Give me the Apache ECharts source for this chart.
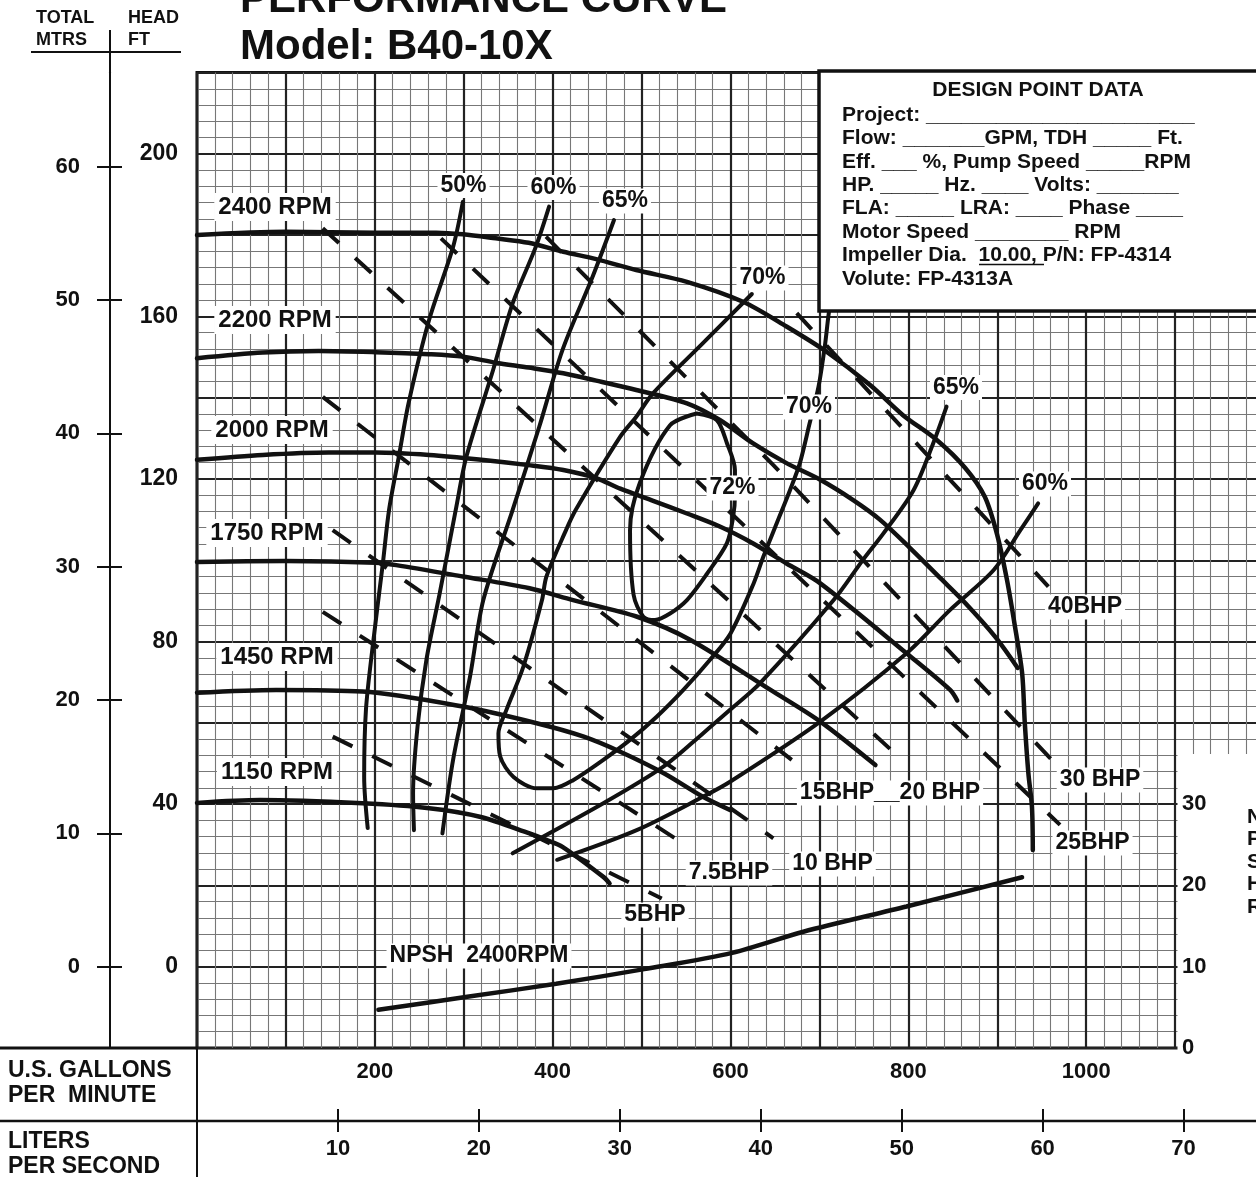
<!DOCTYPE html>
<html>
<head>
<meta charset="utf-8">
<title>Performance Curve Model: B40-10X</title>
<script src="https://cdn.jsdelivr.net/npm/echarts@6/dist/echarts.min.js"></script>
<style>
html,body{margin:0;padding:0;background:#fff;}
#chart{width:1256px;height:1177px;}
</style>
</head>
<body>
<div id="chart"></div>
<script>
// ---------- DATA (x = U.S. GPM, y = total head ft) ----------
const rpm2400 = [[0,180.0],[100,180.8],[201,180.6],[269,180.6],[299,180.2],[336,179.2],[373,178.1],[412,175.9],[449,174.1],[494,171.4],[551,168.5],[614,163.6],[663,157.5],[708,151.3],[757,143.1],[794,135.7],[832,129.6],[864,122.7],[886,115.6],[900,106.2],[911,95.1],[920,83.6],[928,72.2],[931,59.9],[935,47.6],[939,39.4],[940,28.7]];
const rpm2200 = [[0,149.7],[74,151.1],[137,151.5],[201,151.2],[261,150.7],[299,150.1],[336,148.6],[373,147.4],[412,146.0],[449,144.2],[494,141.9],[551,138.6],[588,134.5],[625,128.8],[663,123.9],[701,119.8],[738,114.8],[768,110.0],[802,103.0],[836,95.6],[864,89.5],[898,81.1],[923,73.5]];
const rpm2000 = [[0,124.7],[74,125.9],[148,126.5],[201,126.5],[261,125.9],[317,124.8],[373,123.4],[412,122.2],[449,120.2],[476,117.6],[513,114.6],[551,111.5],[588,108.3],[625,104.2],[663,99.2],[701,94.3],[798,77.1],[847,68.1],[855,65.5]];
const rpm1750 = [[0,99.6],[100,99.8],[201,99.4],[224,98.8],[299,96.0],[374,93.1],[423,90.2],[495,86.1],[555,80.4],[645,68.1],[701,60.3],[763,49.6]];
const rpm1450 = [[0,67.4],[89,68.1],[186,67.7],[299,64.0],[382,59.9],[435,56.6],[476,52.9],[525,47.6],[569,41.8],[600,38.5]];
const rpm1150 = [[0,40.3],[71,41.0],[186,40.2],[261,39.0],[318,36.9],[374,32.8],[393,31.2],[411,29.5],[457,22.1],[464,20.5]];

// efficiency contours
const eff50  = [[299,188.2],[288,177.1],[261,159.1],[238,138.7],[227,125.5],[216,112.4],[209,99.2],[198,79.6],[190,63.2],[188,46.7],[192,34.1]];
const eff60L = [[396,187.0],[381,177.1],[355,163.2],[333,146.8],[303,125.5],[291,112.4],[273,91.9],[258,75.5],[248,59.0],[243,42.7],[244,33.6]];
const eff65L = [[469,183.7],[445,169.8],[411,151.7],[385,132.9],[355,112.4],[322,90.2],[307,71.3],[288,50.9],[276,32.8]];
const eff70  = [[624,165.5],[569,153.4],[513,141.1],[494,135.3],[476,130.4],[426,112.4],[415,107.4],[393,96.0],[388,90.2],[367,73.8],[348,63.2],[339,57.4],[341,51.7],[356,46.7],[382,43.9],[401,43.9],[423,45.9],[457,50.9],[487,55.8],[517,61.5],[547,68.1],[577,75.5],[600,82.0],[626,94.3],[637,100.9],[652,109.1],[667,117.3],[678,123.9],[689,133.7],[699,142.7],[706,152.5],[710,159.9],[712,163.0]];
const eff72  = [[562,136.1],[584.5,134.5],[596,128.8],[605,122.2],[605,116.1],[603,110.7],[596,104.2],[573,96.5],[551,90.2],[532,86.9],[515,85.3],[502,86.1],[491,91.5],[487,107.4],[498,119.0],[532,133.2],[562,136.1]];
const eff65R = [[355,27.9],[457,40.2],[524.5,49.2],[569,57.4],[599.5,63.2],[633,69.7],[716,90.2],[749,100.1],[772,106.6],[806,117.3],[828,128.8],[843,137.8]];
const eff60R = [[405,26.3],[494.5,33.6],[569,41.8],[599.5,45.5],[701,60.3],[798,77.1],[847,87.8],[896,97.6],[926,107.4],[946,114.0]];

// constant brake-horsepower lines
const bhp5   = [[152.6,56.6],[522.7,16.8]];
const bhp7_5 = [[141.4,87.3],[552.6,29.5]];
const bhp10  = [[152.6,107.4],[648.2,31.6]];
const bhp15  = [[141.4,140.2],[668.9,50.9]];
const bhp20  = [[141.4,181.7],[788.8,51.7]];
const bhp25  = [[274.4,179.2],[970.6,34.9]];
const bhp30  = [[392.5,179.6],[648.2,123.4],[966.9,49.6]];
const bhp40  = [[674.5,160.8],[957.5,93.5]];

// NPSH required at 2400 RPM (x = GPM, y = NPSH ft, right scale)
const npsh2400 = [[204,4.7],[304,6.3],[404,7.9],[503,9.7],[602,11.7],[682,14.3],[798,17.4],[928,21.0]];

// tick label values
const gpmLabelValues  = [200,400,600,800,1000];
const lpsLabelValues  = [10,20,30,40,50,60,70];
const headLabelValues = [0,40,80,120,160,200];
const meterTicks      = [0,10,20,30,40,50,60];
const npshLabelValues = [0,10,20,30];

// ---------- CHART ----------
const FONT = '"Liberation Sans", Arial, Helvetica, sans-serif';
const FT2M = 0.3048;
const GPM_PER_LPS = 15.8503;
const INK = '#111';

const chart = echarts.init(document.getElementById('chart'), null, {renderer:'canvas'});

const lblStyle = (size) => ({color:INK, fontSize:size, fontWeight:'bold', fontFamily:FONT});

function curve(name, data, width, smooth) {
  return {name, type:'line', xAxisIndex:0, yAxisIndex:0, data, symbol:'none', showSymbol:false,
    smooth: smooth, silent:true, z:3, lineStyle:{color:INK, width:width, cap:'round', join:'round'}};
}
function dashed(name, data) {
  return {name, type:'line', xAxisIndex:0, yAxisIndex:0, data, symbol:'none', showSymbol:false,
    smooth:false, silent:true, z:3, lineStyle:{color:INK, width:4, type:[22,22], cap:'butt'}};
}

const series = [
  curve('2400 RPM', rpm2400, 4.5, 0.3),
  curve('2200 RPM', rpm2200, 4.5, 0.3),
  curve('2000 RPM', rpm2000, 4.5, 0.3),
  curve('1750 RPM', rpm1750, 4.5, 0.3),
  curve('1450 RPM', rpm1450, 4.5, 0.3),
  curve('1150 RPM', rpm1150, 4.5, 0.3),
  curve('50%', eff50, 4, 0.3),
  curve('60% L', eff60L, 4, 0.3),
  curve('65% L', eff65L, 4, 0.3),
  curve('70%', eff70, 4, 0.3),
  curve('72%', eff72, 4, 0.3),
  curve('65% R', eff65R, 4, 0.3),
  curve('60% R', eff60R, 4, 0.3),
  dashed('5BHP', bhp5),
  dashed('7.5BHP', bhp7_5),
  dashed('10 BHP', bhp10),
  dashed('15BHP', bhp15),
  dashed('20 BHP', bhp20),
  dashed('25BHP', bhp25),
  dashed('30 BHP', bhp30),
  dashed('40BHP', bhp40),
  {name:'NPSH 2400RPM', type:'line', xAxisIndex:3, yAxisIndex:3, data:npsh2400, symbol:'none', showSymbol:false,
   smooth:0.3, silent:true, z:3, lineStyle:{color:INK, width:4.5, cap:'round'}}
];

// ---------- decorations (text and rules) ----------
const graphics = [];
function txt(text, x, y, size, o) {
  o = o || {};
  const st = {text, x, y, font:'bold ' + size + 'px ' + FONT, fill:INK,
    align:o.align || 'left', textAlign:o.align || 'left',
    verticalAlign:'middle', textVerticalAlign:'middle'};
  if (o.bg) { st.backgroundColor = '#fff'; st.padding = o.pad || [1,3]; }
  graphics.push({type:'text', silent:true, z:(o.z != null ? o.z : 100), style:st});
}
function rule(x1,y1,x2,y2,w,z) {
  graphics.push({type:'line', silent:true, z:(z != null ? z : 90), shape:{x1,y1,x2,y2}, style:{stroke:INK, lineWidth:w}});
}

// title
txt('PERFORMANCE CURVE', 240, 0, 42);
txt('Model: B40-10X', 240, 47, 42);
// left header
txt('TOTAL', 36, 18.5, 18); txt('MTRS', 36, 40, 18);
txt('HEAD', 128, 18.5, 18); txt('FT', 128, 40, 18);
rule(31, 52, 181, 52, 2);
rule(110, 30, 110, 74, 2);
// bottom frame
rule(0, 1048, 198, 1048, 3);
rule(197, 1048, 197, 1177, 2);
rule(0, 1121, 1256, 1121, 2.5);
txt('U.S. GALLONS', 8, 1071, 23);
txt('PER  MINUTE', 8, 1096, 23);
txt('LITERS', 8, 1142, 23);
txt('PER SECOND', 8, 1167, 23);

// white area right of NPSH scale
graphics.push({type:'rect', silent:true, z:55, shape:{x:1177.5, y:754, width:90, height:296}, style:{fill:'#fff', stroke:null}});
['N','P','S','H','R'].forEach((c,i) => txt(c, 1247, 817 + i*22.5, 21));

// design point box
graphics.push({type:'rect', silent:true, z:55, shape:{x:819, y:71, width:460, height:240}, style:{fill:'#fff', stroke:INK, lineWidth:3.5}});
txt('DESIGN POINT DATA', 1038, 90, 21, {align:'center', z:56});
const boxLines = [
  'Project: _______________________',
  'Flow: _______GPM, TDH _____ Ft.',
  'Eff. ___ %, Pump Speed _____RPM',
  'HP. _____ Hz. ____ Volts: _______',
  'FLA: _____ LRA: ____ Phase ____',
  'Motor Speed ________ RPM',
  'Impeller Dia.  10.00, P/N: FP-4314',
  'Volute: FP-4313A'
];
boxLines.forEach((s,i) => txt(s, 842, 115 + i*23.4, 21, {z:56}));
rule(979, 264.5, 1044, 264.5, 1.5, 57);

// curve annotations
[['2400 RPM',275,207],['2200 RPM',275,320],['2000 RPM',272,430],['1750 RPM',267,533],['1450 RPM',277,657],['1150 RPM',277,772]]
  .forEach(a => txt(a[0], a[1], a[2], 24, {align:'center', bg:true, pad:[2,4]}));
[['50%',463.5,185.5],['60%',553.5,187.5],['65%',625,201],['70%',762.5,278],['70%',809,407],['65%',956,387.5],['60%',1045,484],['72%',732.5,488]]
  .forEach(a => txt(a[0], a[1], a[2], 23, {align:'center', bg:true, pad:[1,3]}));
[['40BHP',1085,607],['30 BHP',1100,780],['25BHP',1092.5,843],['15BHP__20 BHP',890,793],['10 BHP',832.5,864],['7.5BHP',729,873],['5BHP',655,915],['NPSH  2400RPM',479,956]]
  .forEach(a => txt(a[0], a[1], a[2], 23, {align:'center', bg:true, pad:[1,3]}));

const option = {
  animation:false,
  backgroundColor:'#fff',
  textStyle:{fontFamily:FONT},
  grid:[
    {left:197, top:72.5, width:1067, height:975.5, show:true, borderColor:INK, borderWidth:3,
     backgroundColor:'transparent', containLabel:false, outerBoundsMode:'none'},
    {left:197, top:72.5, width:978, height:975.5, show:false, containLabel:false, outerBoundsMode:'none'}
  ],
  xAxis:[
    {gridIndex:0, type:'value', min:0, max:1200, interval:100, position:'bottom',
     axisLine:{show:false, onZero:false}, axisTick:{show:false},
     axisLabel:Object.assign({margin:13, formatter:v => gpmLabelValues.includes(v) ? String(v) : ''}, lblStyle(22)),
     splitLine:{show:true, lineStyle:{color:'#222', width:2.2}},
     minorTick:{show:false, splitNumber:5},
     minorSplitLine:{show:true, lineStyle:{color:'#777', width:1.1}}},
    {gridIndex:0, type:'value', min:0, max:1200/GPM_PER_LPS, interval:10, position:'bottom', offset:73,
     axisLine:{show:false, onZero:false},
     axisTick:{show:true, inside:true, length:12, lineStyle:{color:INK, width:2}},
     axisLabel:Object.assign({margin:17, formatter:v => lpsLabelValues.includes(v) ? String(v) : ''}, lblStyle(22)),
     splitLine:{show:false}},
    {gridIndex:0, type:'value', min:0, max:1200/GPM_PER_LPS, interval:10, position:'bottom', offset:73,
     axisLine:{show:false, onZero:false},
     axisTick:{show:true, inside:false, length:11, lineStyle:{color:INK, width:2}},
     axisLabel:{show:false}, splitLine:{show:false}},
    {gridIndex:1, type:'value', min:0, max:1100, show:false, axisLine:{onZero:false}}
  ],
  yAxis:[
    {gridIndex:0, type:'value', min:-20, max:220, interval:20, position:'left',
     axisLine:{show:false, onZero:false}, axisTick:{show:false},
     axisLabel:Object.assign({margin:19, padding:[5,0,0,0], formatter:v => headLabelValues.includes(v) ? String(v) : ''}, lblStyle(23)),
     splitLine:{show:true, lineStyle:{color:'#222', width:2.2}},
     minorTick:{show:false, splitNumber:5},
     minorSplitLine:{show:true, lineStyle:{color:'#777', width:1.1}}},
    {gridIndex:0, type:'value', min:-20*FT2M, max:220*FT2M, position:'left', offset:87,
     axisLine:{show:true, onZero:false, lineStyle:{color:INK, width:2}},
     axisTick:{show:true, inside:false, length:13, customValues:meterTicks, lineStyle:{color:INK, width:2}},
     axisLabel:Object.assign({show:true, margin:30, padding:[2,0,0,0], customValues:meterTicks}, lblStyle(22)),
     splitLine:{show:false}},
    {gridIndex:0, type:'value', min:-20*FT2M, max:220*FT2M, position:'left', offset:87,
     axisLine:{show:false, onZero:false},
     axisTick:{show:true, inside:true, length:12, customValues:meterTicks, lineStyle:{color:INK, width:2}},
     axisLabel:{show:false}, splitLine:{show:false}},
    {gridIndex:1, type:'value', min:0, max:120, interval:10, position:'right', z:60,
     axisLine:{show:false, onZero:false}, axisTick:{show:false},
     axisLabel:Object.assign({margin:7, formatter:v => npshLabelValues.includes(v) ? String(v) : ''}, lblStyle(22)),
     splitLine:{show:false}}
  ],
  series:series,
  graphic:{elements:graphics}
};
chart.setOption(option);
</script>
</body>
</html>
